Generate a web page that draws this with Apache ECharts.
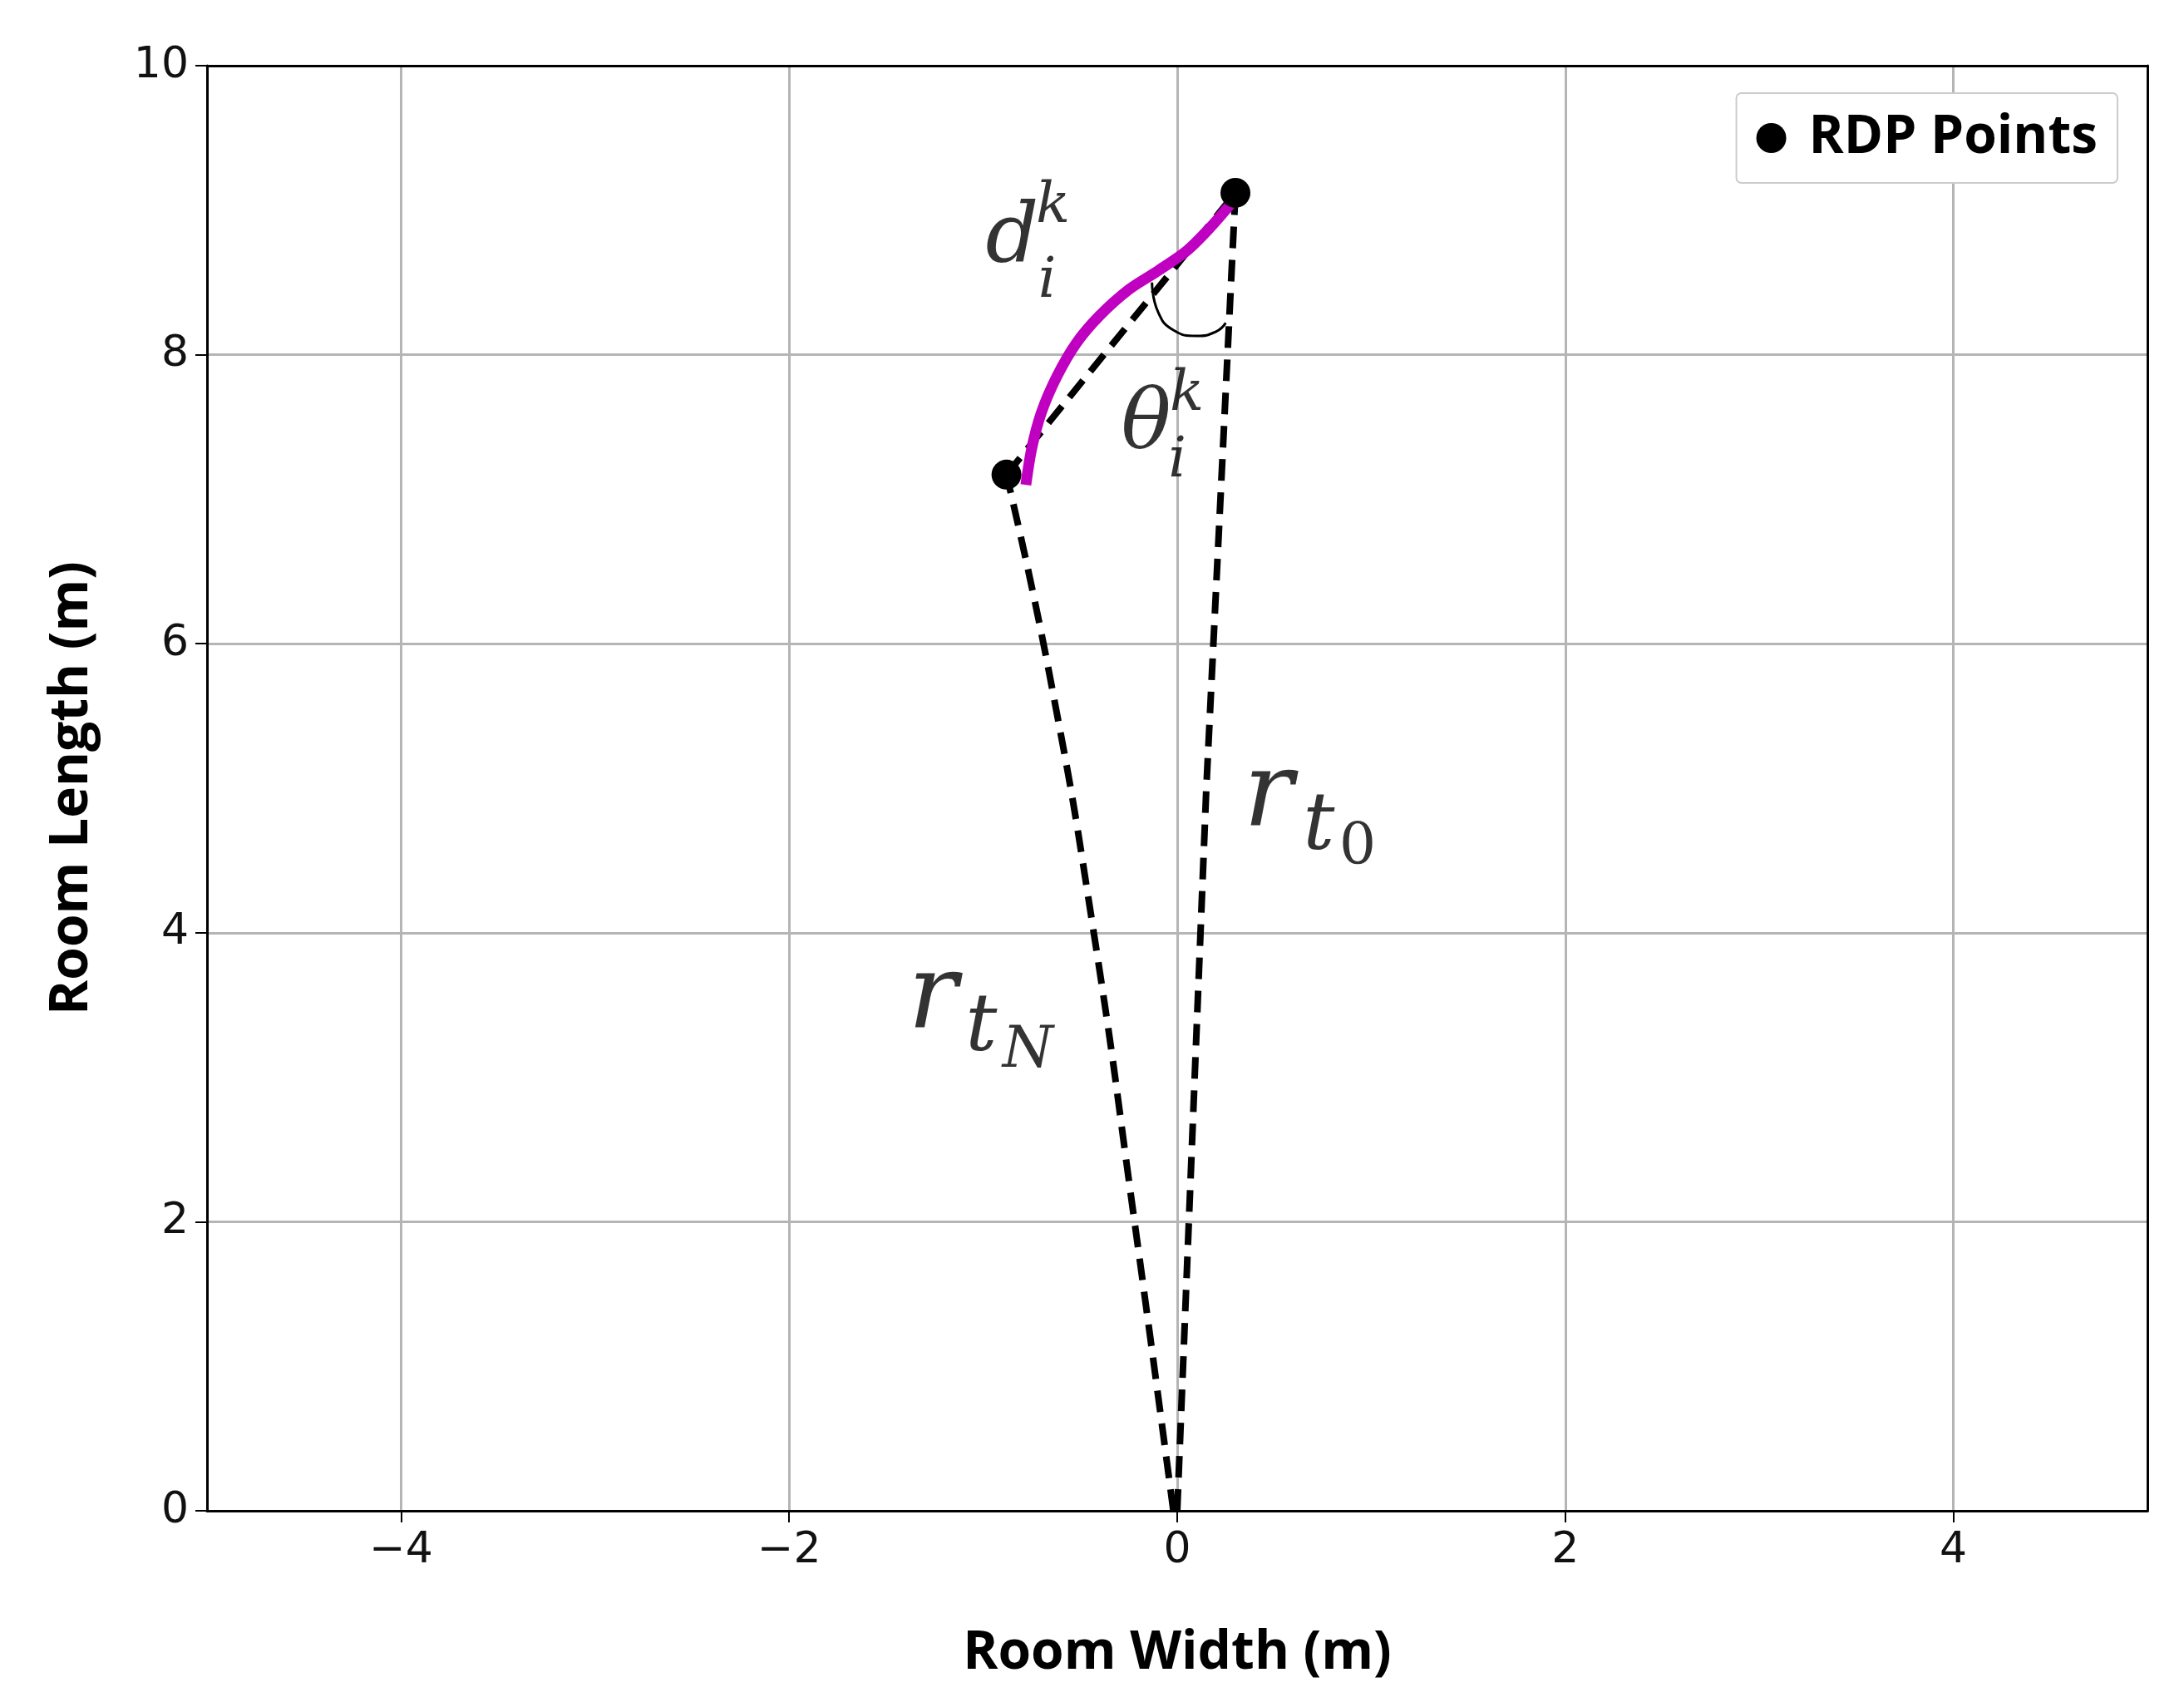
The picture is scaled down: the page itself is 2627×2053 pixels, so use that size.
<!DOCTYPE html>
<html><head><meta charset="utf-8">
<script src="https://cdn.jsdelivr.net/npm/echarts@6/dist/echarts.min.js"></script>
<style>html,body{margin:0;background:#fff}#c{width:2627px;height:2053px}</style>
</head><body><div id="c"></div>
<script>
const xTicks = [-4,-2,0,2,4];
const rdpPoints = [[0.30,9.12],[-0.88,7.17]];
const rayT0 = [[0.0,0.0],[0.15,5.0],[0.30,9.12]];
const rayTN = [[-0.02,0.0],[-0.22,2.0],[-0.43,4.0],[-0.66,5.8],[-0.88,7.17]];
const chord = [[-0.88,7.17],[0.30,9.12]];
const trajectory = [[-0.78,7.10],[-0.75,7.35],[-0.70,7.60],[-0.62,7.85],[-0.52,8.08],[-0.40,8.27],[-0.25,8.45],[-0.10,8.58],[0.05,8.72],[0.17,8.88],[0.28,9.05]];
const angleArc = [[-0.13,8.50],[-0.10,8.30],[-0.02,8.17],[0.10,8.13],[0.20,8.16],[0.25,8.22]];
// math annotation glyphs: [x, y, text, role]
const mathGlyphs = [
  [-0.85,8.79,'d','big'],[-0.64,9.02,'k','sup'],[-0.67,8.50,'i','sup'],
  [-0.16,7.50,'θ','big'],[0.05,7.72,'k','sup'],[0.0,7.26,'i','sup'],
  [0.47,4.93,'r','huge'],[0.73,4.72,'t','mid'],[0.93,4.58,'0','subup'],
  [-1.26,3.53,'r','huge'],[-1.01,3.33,'t','mid'],[-0.77,3.18,'N','subup']
];
const serif = 'DejaVu Serif';
const sizes = {big:100,sup:68,huge:125,mid:95,subup:70};
const dashed = {color:'#000', width:8, type:[26,14]};
const chart = echarts.init(document.getElementById('c'));
const fmt = v => String(v).replace('-', '\u2212');
const frameAxis = {axisLine:{show:true,onZero:false,lineStyle:{color:'#000',width:3}},axisTick:{show:false},axisLabel:{show:false},splitLine:{show:false}};
chart.setOption({
  animation:false,
  grid:{left:249,right:44,top:79,bottom:236},
  xAxis:[{type:'value',min:-5,max:5,interval:1,
    name:'Room Width (m)',nameLocation:'middle',nameGap:140,
    nameTextStyle:{fontFamily:'Open Sans',fontWeight:'bold',fontSize:64,color:'#000'},
    axisLine:{onZero:false,lineStyle:{color:'#000',width:3}},
    axisTick:{length:14,lineStyle:{color:'#000',width:2},customValues:xTicks},
    axisLabel:{fontFamily:'DejaVu Sans',fontSize:52,color:'#111',margin:22,formatter:fmt,customValues:xTicks},
    splitLine:{show:true,lineStyle:{color:'#b5b5b5',width:3}}
  },Object.assign({type:'value',min:-5,max:5,position:'top'},frameAxis)],
  yAxis:[{type:'value',min:0,max:10,interval:2,
    name:'Room Length (m)',nameLocation:'middle',nameGap:130,
    nameTextStyle:{fontFamily:'Open Sans',fontWeight:'bold',fontSize:64,color:'#000'},
    axisLine:{onZero:false,lineStyle:{color:'#000',width:3}},
    axisTick:{length:14,lineStyle:{color:'#000',width:2}},
    axisLabel:{fontFamily:'DejaVu Sans',fontSize:52,color:'#111',margin:22},
    splitLine:{show:true,lineStyle:{color:'#b5b5b5',width:3}}
  },Object.assign({type:'value',min:0,max:10,position:'right'},frameAxis)],
  legend:{data:['RDP Points'],right:80,top:112,padding:[22,24,22,24],
    backgroundColor:'#fff',borderColor:'#ccc',borderWidth:2,borderRadius:6,
    itemWidth:36,itemHeight:36,
    textStyle:{fontFamily:'Open Sans',fontWeight:'bold',fontSize:64,color:'#000',padding:[0,0,0,22]}},
  series:[
    {type:'line',data:rayT0,symbol:'none',lineStyle:dashed,z:3},
    {type:'line',data:rayTN,symbol:'none',smooth:true,lineStyle:dashed,z:3},
    {type:'line',data:chord,symbol:'none',lineStyle:dashed,z:3},
    {type:'line',data:trajectory,symbol:'none',smooth:0.3,lineStyle:{color:'#c000c0',width:13},z:4},
    {type:'line',data:angleArc,symbol:'none',smooth:true,lineStyle:{color:'#000',width:3},z:4},
    {name:'RDP Points',type:'scatter',data:rdpPoints,symbol:'circle',symbolSize:36,itemStyle:{color:'#000',opacity:1},z:5},
    {type:'scatter',symbolSize:0,z:6,silent:true,
      data:mathGlyphs.map(g=>({value:[g[0],g[1]],label:{show:true,formatter:g[2],fontSize:sizes[g[3]],color:'#000',
        fontStyle:g[2]==='0'?'normal':'italic'}})),
      label:{position:'inside',fontFamily:serif,color:'#000',textBorderWidth:0}
    }
  ]
});
</script></body></html>
